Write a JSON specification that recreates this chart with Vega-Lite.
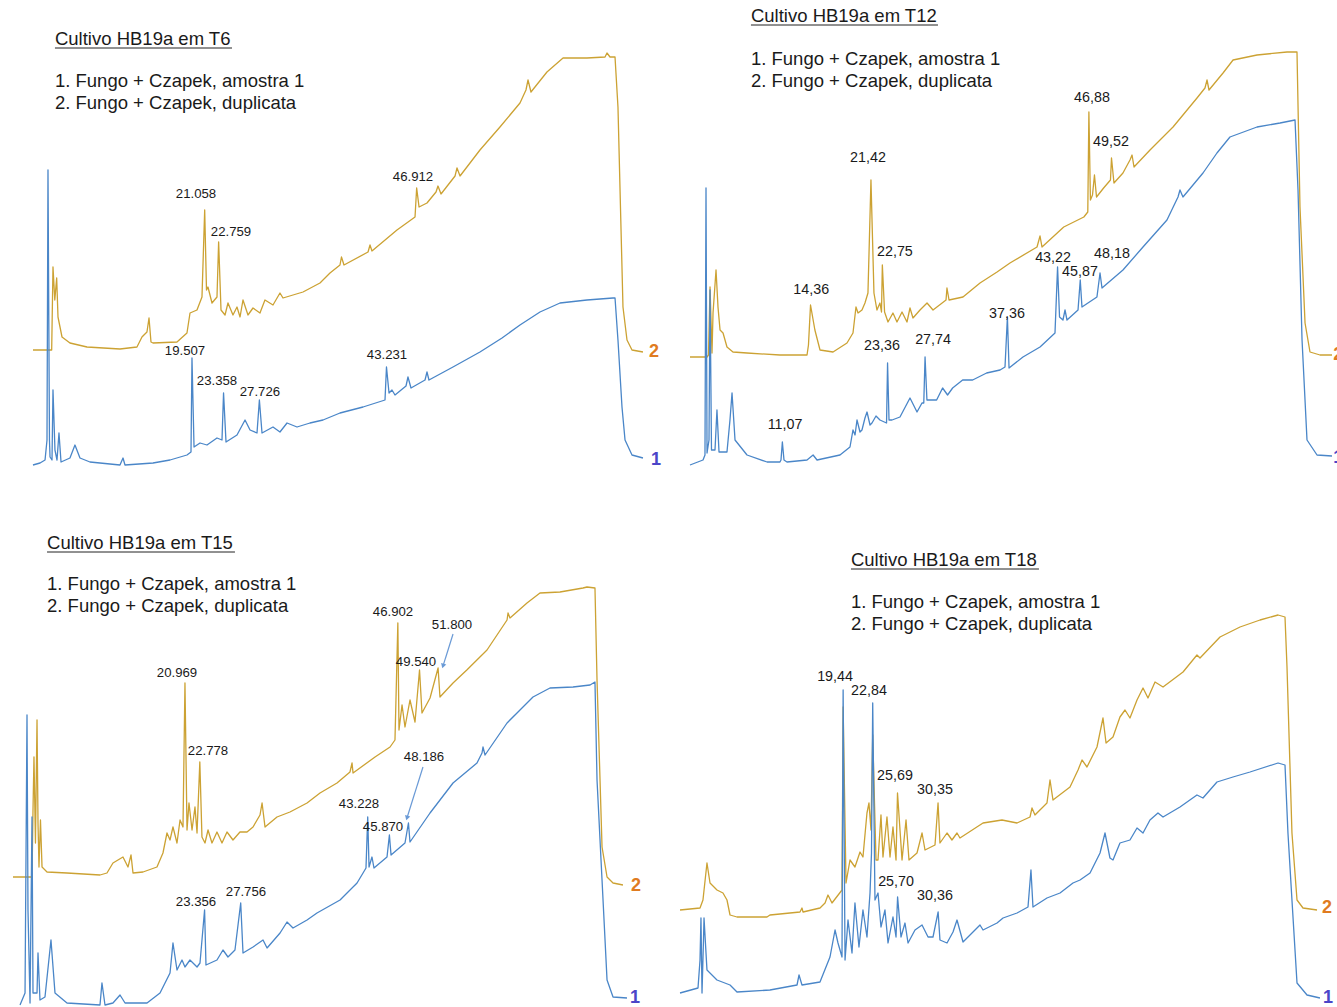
{
"$schema": "https://vega.github.io/schema/vega-lite/v6.json",
"padding": 0,
"background": "white",
"spacing": 0,
"config": {"view": {"stroke": null}, "font": "Liberation Sans"},
"datasets": {
"tr": [
{"p":"T6","s":"2","t":0.12,"v":150},{"p":"T6","s":"2","t":2.40,"v":150},{"p":"T6","s":"2","t":2.56,"v":233},{"p":"T6","s":"2","t":2.78,"v":200},{"p":"T6","s":"2","t":3.01,"v":222},{"p":"T6","s":"2","t":3.17,"v":183},{"p":"T6","s":"2","t":3.66,"v":163},{"p":"T6","s":"2","t":4.63,"v":157},{"p":"T6","s":"2","t":6.71,"v":153},{"p":"T6","s":"2","t":10.73,"v":151},{"p":"T6","s":"2","t":12.80,"v":153},{"p":"T6","s":"2","t":13.41,"v":163},{"p":"T6","s":"2","t":14.02,"v":168},{"p":"T6","s":"2","t":14.27,"v":182},{"p":"T6","s":"2","t":14.51,"v":158},{"p":"T6","s":"2","t":14.76,"v":157},{"p":"T6","s":"2","t":17.68,"v":158},{"p":"T6","s":"2","t":18.90,"v":167},{"p":"T6","s":"2","t":19.27,"v":187},{"p":"T6","s":"2","t":20.12,"v":190},{"p":"T6","s":"2","t":20.73,"v":203},{"p":"T6","s":"2","t":21.06,"v":290},{"p":"T6","s":"2","t":21.28,"v":210},{"p":"T6","s":"2","t":21.46,"v":213},{"p":"T6","s":"2","t":21.95,"v":197},{"p":"T6","s":"2","t":22.56,"v":203},{"p":"T6","s":"2","t":22.76,"v":258},{"p":"T6","s":"2","t":23.05,"v":190},{"p":"T6","s":"2","t":23.54,"v":185},{"p":"T6","s":"2","t":23.90,"v":197},{"p":"T6","s":"2","t":24.51,"v":185},{"p":"T6","s":"2","t":25.00,"v":193},{"p":"T6","s":"2","t":25.37,"v":183},{"p":"T6","s":"2","t":25.73,"v":200},{"p":"T6","s":"2","t":26.34,"v":185},{"p":"T6","s":"2","t":26.95,"v":192},{"p":"T6","s":"2","t":27.80,"v":187},{"p":"T6","s":"2","t":28.41,"v":200},{"p":"T6","s":"2","t":29.39,"v":195},{"p":"T6","s":"2","t":30.24,"v":207},{"p":"T6","s":"2","t":30.61,"v":202},{"p":"T6","s":"2","t":33.05,"v":208},{"p":"T6","s":"2","t":35.12,"v":217},{"p":"T6","s":"2","t":36.34,"v":227},{"p":"T6","s":"2","t":37.56,"v":235},{"p":"T6","s":"2","t":37.74,"v":243},{"p":"T6","s":"2","t":38.05,"v":235},{"p":"T6","s":"2","t":40.98,"v":248},{"p":"T6","s":"2","t":41.22,"v":255},{"p":"T6","s":"2","t":41.46,"v":249},{"p":"T6","s":"2","t":44.51,"v":270},{"p":"T6","s":"2","t":46.71,"v":283},{"p":"T6","s":"2","t":46.91,"v":312},{"p":"T6","s":"2","t":47.20,"v":293},{"p":"T6","s":"2","t":48.17,"v":297},{"p":"T6","s":"2","t":49.27,"v":308},{"p":"T6","s":"2","t":49.51,"v":314},{"p":"T6","s":"2","t":49.88,"v":306},{"p":"T6","s":"2","t":51.59,"v":324},{"p":"T6","s":"2","t":51.83,"v":332},{"p":"T6","s":"2","t":52.20,"v":324},{"p":"T6","s":"2","t":54.63,"v":350},{"p":"T6","s":"2","t":57.07,"v":373},{"p":"T6","s":"2","t":59.51,"v":397},{"p":"T6","s":"2","t":60.24,"v":410},{"p":"T6","s":"2","t":60.49,"v":420},{"p":"T6","s":"2","t":60.85,"v":408},{"p":"T6","s":"2","t":62.80,"v":428},{"p":"T6","s":"2","t":64.76,"v":442},{"p":"T6","s":"2","t":67.68,"v":442},{"p":"T6","s":"2","t":69.88,"v":443},{"p":"T6","s":"2","t":70.12,"v":447},{"p":"T6","s":"2","t":70.49,"v":443},{"p":"T6","s":"2","t":71.10,"v":443},{"p":"T6","s":"2","t":71.46,"v":393},{"p":"T6","s":"2","t":72.07,"v":193},{"p":"T6","s":"2","t":72.56,"v":160},{"p":"T6","s":"2","t":73.17,"v":150},{"p":"T6","s":"2","t":74.51,"v":148},
{"p":"T6","s":"1","t":0.12,"v":35},{"p":"T6","s":"1","t":0.98,"v":37},{"p":"T6","s":"1","t":1.59,"v":40},{"p":"T6","s":"1","t":1.83,"v":60},{"p":"T6","s":"1","t":1.95,"v":330},{"p":"T6","s":"1","t":2.13,"v":60},{"p":"T6","s":"1","t":2.20,"v":43},{"p":"T6","s":"1","t":2.44,"v":40},{"p":"T6","s":"1","t":2.56,"v":110},{"p":"T6","s":"1","t":2.80,"v":50},{"p":"T6","s":"1","t":3.05,"v":40},{"p":"T6","s":"1","t":3.29,"v":67},{"p":"T6","s":"1","t":3.54,"v":38},{"p":"T6","s":"1","t":4.63,"v":42},{"p":"T6","s":"1","t":5.24,"v":55},{"p":"T6","s":"1","t":5.85,"v":42},{"p":"T6","s":"1","t":7.07,"v":38},{"p":"T6","s":"1","t":10.73,"v":35},{"p":"T6","s":"1","t":11.10,"v":42},{"p":"T6","s":"1","t":11.34,"v":35},{"p":"T6","s":"1","t":14.76,"v":37},{"p":"T6","s":"1","t":16.83,"v":40},{"p":"T6","s":"1","t":18.90,"v":45},{"p":"T6","s":"1","t":19.39,"v":48},{"p":"T6","s":"1","t":19.51,"v":142},{"p":"T6","s":"1","t":19.76,"v":53},{"p":"T6","s":"1","t":20.49,"v":57},{"p":"T6","s":"1","t":21.34,"v":55},{"p":"T6","s":"1","t":22.56,"v":62},{"p":"T6","s":"1","t":23.17,"v":60},{"p":"T6","s":"1","t":23.36,"v":107},{"p":"T6","s":"1","t":23.66,"v":58},{"p":"T6","s":"1","t":25.00,"v":65},{"p":"T6","s":"1","t":25.98,"v":80},{"p":"T6","s":"1","t":26.59,"v":70},{"p":"T6","s":"1","t":27.44,"v":67},{"p":"T6","s":"1","t":27.73,"v":100},{"p":"T6","s":"1","t":28.05,"v":67},{"p":"T6","s":"1","t":29.39,"v":73},{"p":"T6","s":"1","t":30.24,"v":68},{"p":"T6","s":"1","t":31.10,"v":77},{"p":"T6","s":"1","t":32.32,"v":73},{"p":"T6","s":"1","t":33.90,"v":77},{"p":"T6","s":"1","t":35.49,"v":80},{"p":"T6","s":"1","t":37.56,"v":87},{"p":"T6","s":"1","t":40.37,"v":93},{"p":"T6","s":"1","t":43.05,"v":100},{"p":"T6","s":"1","t":43.23,"v":133},{"p":"T6","s":"1","t":43.54,"v":107},{"p":"T6","s":"1","t":43.90,"v":110},{"p":"T6","s":"1","t":44.27,"v":105},{"p":"T6","s":"1","t":45.61,"v":114},{"p":"T6","s":"1","t":45.85,"v":123},{"p":"T6","s":"1","t":46.22,"v":112},{"p":"T6","s":"1","t":47.93,"v":120},{"p":"T6","s":"1","t":48.17,"v":128},{"p":"T6","s":"1","t":48.41,"v":120},{"p":"T6","s":"1","t":51.34,"v":133},{"p":"T6","s":"1","t":54.63,"v":148},{"p":"T6","s":"1","t":57.32,"v":162},{"p":"T6","s":"1","t":59.51,"v":175},{"p":"T6","s":"1","t":61.95,"v":188},{"p":"T6","s":"1","t":64.39,"v":197},{"p":"T6","s":"1","t":67.68,"v":200},{"p":"T6","s":"1","t":70.85,"v":202},{"p":"T6","s":"1","t":71.10,"v":202},{"p":"T6","s":"1","t":71.46,"v":160},{"p":"T6","s":"1","t":71.95,"v":93},{"p":"T6","s":"1","t":72.32,"v":60},{"p":"T6","s":"1","t":73.17,"v":45},{"p":"T6","s":"1","t":74.51,"v":42},
{"p":"T12","s":"2","t":0.28,"v":143},{"p":"T12","s":"2","t":2.27,"v":143},{"p":"T12","s":"2","t":2.44,"v":145},{"p":"T12","s":"2","t":2.62,"v":213},{"p":"T12","s":"2","t":2.85,"v":147},{"p":"T12","s":"2","t":2.97,"v":187},{"p":"T12","s":"2","t":3.32,"v":230},{"p":"T12","s":"2","t":3.55,"v":193},{"p":"T12","s":"2","t":3.79,"v":170},{"p":"T12","s":"2","t":4.14,"v":167},{"p":"T12","s":"2","t":4.60,"v":153},{"p":"T12","s":"2","t":5.30,"v":148},{"p":"T12","s":"2","t":6.94,"v":147},{"p":"T12","s":"2","t":10.79,"v":145},{"p":"T12","s":"2","t":13.95,"v":145},{"p":"T12","s":"2","t":14.12,"v":155},{"p":"T12","s":"2","t":14.36,"v":195},{"p":"T12","s":"2","t":14.87,"v":170},{"p":"T12","s":"2","t":15.47,"v":150},{"p":"T12","s":"2","t":16.99,"v":148},{"p":"T12","s":"2","t":18.62,"v":157},{"p":"T12","s":"2","t":19.32,"v":167},{"p":"T12","s":"2","t":19.67,"v":193},{"p":"T12","s":"2","t":19.91,"v":187},{"p":"T12","s":"2","t":20.37,"v":190},{"p":"T12","s":"2","t":20.72,"v":197},{"p":"T12","s":"2","t":21.07,"v":207},{"p":"T12","s":"2","t":21.42,"v":320},{"p":"T12","s":"2","t":21.77,"v":207},{"p":"T12","s":"2","t":22.12,"v":190},{"p":"T12","s":"2","t":22.47,"v":197},{"p":"T12","s":"2","t":22.65,"v":188},{"p":"T12","s":"2","t":22.75,"v":235},{"p":"T12","s":"2","t":23.01,"v":188},{"p":"T12","s":"2","t":23.41,"v":178},{"p":"T12","s":"2","t":23.99,"v":187},{"p":"T12","s":"2","t":24.46,"v":178},{"p":"T12","s":"2","t":25.05,"v":188},{"p":"T12","s":"2","t":25.63,"v":178},{"p":"T12","s":"2","t":25.98,"v":192},{"p":"T12","s":"2","t":26.33,"v":182},{"p":"T12","s":"2","t":27.15,"v":190},{"p":"T12","s":"2","t":27.97,"v":197},{"p":"T12","s":"2","t":28.67,"v":190},{"p":"T12","s":"2","t":30.19,"v":200},{"p":"T12","s":"2","t":30.30,"v":212},{"p":"T12","s":"2","t":30.54,"v":200},{"p":"T12","s":"2","t":32.17,"v":203},{"p":"T12","s":"2","t":34.16,"v":217},{"p":"T12","s":"2","t":36.15,"v":228},{"p":"T12","s":"2","t":37.66,"v":237},{"p":"T12","s":"2","t":40.82,"v":253},{"p":"T12","s":"2","t":41.17,"v":264},{"p":"T12","s":"2","t":41.40,"v":253},{"p":"T12","s":"2","t":43.94,"v":273},{"p":"T12","s":"2","t":46.29,"v":283},{"p":"T12","s":"2","t":46.75,"v":288},{"p":"T12","s":"2","t":46.88,"v":388},{"p":"T12","s":"2","t":47.06,"v":300},{"p":"T12","s":"2","t":47.30,"v":305},{"p":"T12","s":"2","t":47.53,"v":325},{"p":"T12","s":"2","t":47.77,"v":303},{"p":"T12","s":"2","t":48.60,"v":312},{"p":"T12","s":"2","t":49.40,"v":320},{"p":"T12","s":"2","t":49.52,"v":342},{"p":"T12","s":"2","t":49.81,"v":317},{"p":"T12","s":"2","t":50.86,"v":327},{"p":"T12","s":"2","t":51.68,"v":340},{"p":"T12","s":"2","t":51.92,"v":345},{"p":"T12","s":"2","t":52.15,"v":333},{"p":"T12","s":"2","t":54.02,"v":350},{"p":"T12","s":"2","t":56.71,"v":373},{"p":"T12","s":"2","t":59.51,"v":402},{"p":"T12","s":"2","t":60.44,"v":412},{"p":"T12","s":"2","t":60.68,"v":420},{"p":"T12","s":"2","t":60.91,"v":410},{"p":"T12","s":"2","t":62.55,"v":427},{"p":"T12","s":"2","t":63.72,"v":440},{"p":"T12","s":"2","t":66.52,"v":445},{"p":"T12","s":"2","t":70.03,"v":448},{"p":"T12","s":"2","t":71.19,"v":448},{"p":"T12","s":"2","t":71.54,"v":293},{"p":"T12","s":"2","t":72.13,"v":177},{"p":"T12","s":"2","t":72.71,"v":148},{"p":"T12","s":"2","t":73.88,"v":145},{"p":"T12","s":"2","t":75.28,"v":145},
{"p":"T12","s":"1","t":0.28,"v":35},{"p":"T12","s":"1","t":1.80,"v":40},{"p":"T12","s":"1","t":2.03,"v":45},{"p":"T12","s":"1","t":2.15,"v":312},{"p":"T12","s":"1","t":2.27,"v":47},{"p":"T12","s":"1","t":2.50,"v":60},{"p":"T12","s":"1","t":2.62,"v":210},{"p":"T12","s":"1","t":2.79,"v":50},{"p":"T12","s":"1","t":3.20,"v":50},{"p":"T12","s":"1","t":3.43,"v":90},{"p":"T12","s":"1","t":3.67,"v":48},{"p":"T12","s":"1","t":4.60,"v":48},{"p":"T12","s":"1","t":4.95,"v":80},{"p":"T12","s":"1","t":5.19,"v":107},{"p":"T12","s":"1","t":5.54,"v":60},{"p":"T12","s":"1","t":6.94,"v":45},{"p":"T12","s":"1","t":9.28,"v":38},{"p":"T12","s":"1","t":10.79,"v":38},{"p":"T12","s":"1","t":10.91,"v":40},{"p":"T12","s":"1","t":11.07,"v":58},{"p":"T12","s":"1","t":11.26,"v":40},{"p":"T12","s":"1","t":11.61,"v":38},{"p":"T12","s":"1","t":13.95,"v":40},{"p":"T12","s":"1","t":14.66,"v":45},{"p":"T12","s":"1","t":15.12,"v":40},{"p":"T12","s":"1","t":17.80,"v":45},{"p":"T12","s":"1","t":18.97,"v":53},{"p":"T12","s":"1","t":19.32,"v":70},{"p":"T12","s":"1","t":19.56,"v":65},{"p":"T12","s":"1","t":19.79,"v":80},{"p":"T12","s":"1","t":20.14,"v":68},{"p":"T12","s":"1","t":20.37,"v":70},{"p":"T12","s":"1","t":20.72,"v":82},{"p":"T12","s":"1","t":20.96,"v":88},{"p":"T12","s":"1","t":21.31,"v":75},{"p":"T12","s":"1","t":21.54,"v":77},{"p":"T12","s":"1","t":22.01,"v":84},{"p":"T12","s":"1","t":22.47,"v":80},{"p":"T12","s":"1","t":23.24,"v":77},{"p":"T12","s":"1","t":23.36,"v":137},{"p":"T12","s":"1","t":23.53,"v":80},{"p":"T12","s":"1","t":23.88,"v":80},{"p":"T12","s":"1","t":24.81,"v":83},{"p":"T12","s":"1","t":25.98,"v":102},{"p":"T12","s":"1","t":26.80,"v":88},{"p":"T12","s":"1","t":27.38,"v":97},{"p":"T12","s":"1","t":27.59,"v":97},{"p":"T12","s":"1","t":27.74,"v":143},{"p":"T12","s":"1","t":27.96,"v":100},{"p":"T12","s":"1","t":29.09,"v":100},{"p":"T12","s":"1","t":29.79,"v":112},{"p":"T12","s":"1","t":30.37,"v":105},{"p":"T12","s":"1","t":30.96,"v":112},{"p":"T12","s":"1","t":32.13,"v":120},{"p":"T12","s":"1","t":33.30,"v":120},{"p":"T12","s":"1","t":34.93,"v":127},{"p":"T12","s":"1","t":36.50,"v":130},{"p":"T12","s":"1","t":37.08,"v":133},{"p":"T12","s":"1","t":37.36,"v":183},{"p":"T12","s":"1","t":37.55,"v":132},{"p":"T12","s":"1","t":39.18,"v":143},{"p":"T12","s":"1","t":41.17,"v":153},{"p":"T12","s":"1","t":42.92,"v":167},{"p":"T12","s":"1","t":43.22,"v":233},{"p":"T12","s":"1","t":43.45,"v":183},{"p":"T12","s":"1","t":43.85,"v":180},{"p":"T12","s":"1","t":44.09,"v":190},{"p":"T12","s":"1","t":44.32,"v":180},{"p":"T12","s":"1","t":45.61,"v":190},{"p":"T12","s":"1","t":45.87,"v":220},{"p":"T12","s":"1","t":46.07,"v":193},{"p":"T12","s":"1","t":47.82,"v":203},{"p":"T12","s":"1","t":48.18,"v":227},{"p":"T12","s":"1","t":48.41,"v":212},{"p":"T12","s":"1","t":50.86,"v":230},{"p":"T12","s":"1","t":53.20,"v":253},{"p":"T12","s":"1","t":56.00,"v":280},{"p":"T12","s":"1","t":57.29,"v":303},{"p":"T12","s":"1","t":57.52,"v":310},{"p":"T12","s":"1","t":57.87,"v":303},{"p":"T12","s":"1","t":60.21,"v":327},{"p":"T12","s":"1","t":61.84,"v":347},{"p":"T12","s":"1","t":63.36,"v":363},{"p":"T12","s":"1","t":66.52,"v":373},{"p":"T12","s":"1","t":69.21,"v":377},{"p":"T12","s":"1","t":70.96,"v":380},{"p":"T12","s":"1","t":71.31,"v":310},{"p":"T12","s":"1","t":71.78,"v":160},{"p":"T12","s":"1","t":72.36,"v":60},{"p":"T12","s":"1","t":73.53,"v":45},{"p":"T12","s":"1","t":75.28,"v":44},
{"p":"T15","s":"2","t":0.02,"v":130},{"p":"T15","s":"2","t":2.34,"v":130},{"p":"T15","s":"2","t":2.46,"v":197},{"p":"T15","s":"2","t":2.58,"v":250},{"p":"T15","s":"2","t":2.76,"v":164},{"p":"T15","s":"2","t":2.95,"v":287},{"p":"T15","s":"2","t":3.07,"v":184},{"p":"T15","s":"2","t":3.19,"v":140},{"p":"T15","s":"2","t":3.37,"v":187},{"p":"T15","s":"2","t":3.56,"v":140},{"p":"T15","s":"2","t":4.17,"v":135},{"p":"T15","s":"2","t":6.60,"v":134},{"p":"T15","s":"2","t":10.62,"v":132},{"p":"T15","s":"2","t":11.47,"v":134},{"p":"T15","s":"2","t":12.20,"v":144},{"p":"T15","s":"2","t":13.42,"v":150},{"p":"T15","s":"2","t":14.03,"v":140},{"p":"T15","s":"2","t":14.40,"v":152},{"p":"T15","s":"2","t":14.64,"v":134},{"p":"T15","s":"2","t":15.86,"v":135},{"p":"T15","s":"2","t":17.56,"v":140},{"p":"T15","s":"2","t":18.29,"v":154},{"p":"T15","s":"2","t":18.78,"v":174},{"p":"T15","s":"2","t":19.15,"v":167},{"p":"T15","s":"2","t":19.51,"v":180},{"p":"T15","s":"2","t":20.00,"v":164},{"p":"T15","s":"2","t":20.37,"v":187},{"p":"T15","s":"2","t":20.73,"v":180},{"p":"T15","s":"2","t":20.97,"v":324},{"p":"T15","s":"2","t":21.22,"v":177},{"p":"T15","s":"2","t":21.46,"v":204},{"p":"T15","s":"2","t":21.83,"v":177},{"p":"T15","s":"2","t":22.19,"v":200},{"p":"T15","s":"2","t":22.44,"v":174},{"p":"T15","s":"2","t":22.78,"v":245},{"p":"T15","s":"2","t":23.04,"v":170},{"p":"T15","s":"2","t":23.41,"v":164},{"p":"T15","s":"2","t":23.78,"v":177},{"p":"T15","s":"2","t":24.26,"v":164},{"p":"T15","s":"2","t":24.87,"v":175},{"p":"T15","s":"2","t":25.48,"v":164},{"p":"T15","s":"2","t":26.09,"v":175},{"p":"T15","s":"2","t":26.82,"v":167},{"p":"T15","s":"2","t":27.67,"v":175},{"p":"T15","s":"2","t":28.53,"v":175},{"p":"T15","s":"2","t":29.26,"v":180},{"p":"T15","s":"2","t":30.11,"v":192},{"p":"T15","s":"2","t":30.36,"v":204},{"p":"T15","s":"2","t":30.72,"v":180},{"p":"T15","s":"2","t":32.18,"v":190},{"p":"T15","s":"2","t":33.76,"v":195},{"p":"T15","s":"2","t":35.84,"v":204},{"p":"T15","s":"2","t":37.42,"v":214},{"p":"T15","s":"2","t":39.49,"v":224},{"p":"T15","s":"2","t":41.07,"v":235},{"p":"T15","s":"2","t":41.32,"v":244},{"p":"T15","s":"2","t":41.44,"v":234},{"p":"T15","s":"2","t":44.12,"v":250},{"p":"T15","s":"2","t":45.95,"v":260},{"p":"T15","s":"2","t":46.55,"v":267},{"p":"T15","s":"2","t":46.90,"v":384},{"p":"T15","s":"2","t":47.04,"v":277},{"p":"T15","s":"2","t":47.41,"v":302},{"p":"T15","s":"2","t":47.77,"v":280},{"p":"T15","s":"2","t":48.38,"v":307},{"p":"T15","s":"2","t":48.99,"v":285},{"p":"T15","s":"2","t":49.54,"v":337},{"p":"T15","s":"2","t":49.84,"v":294},{"p":"T15","s":"2","t":50.82,"v":309},{"p":"T15","s":"2","t":51.80,"v":339},{"p":"T15","s":"2","t":52.03,"v":310},{"p":"T15","s":"2","t":53.62,"v":324},{"p":"T15","s":"2","t":55.30,"v":337},{"p":"T15","s":"2","t":57.76,"v":357},{"p":"T15","s":"2","t":60.20,"v":387},{"p":"T15","s":"2","t":60.32,"v":394},{"p":"T15","s":"2","t":60.56,"v":389},{"p":"T15","s":"2","t":62.63,"v":404},{"p":"T15","s":"2","t":64.21,"v":414},{"p":"T15","s":"2","t":66.65,"v":415},{"p":"T15","s":"2","t":69.45,"v":419},{"p":"T15","s":"2","t":69.94,"v":420},{"p":"T15","s":"2","t":70.91,"v":419},{"p":"T15","s":"2","t":71.16,"v":327},{"p":"T15","s":"2","t":71.77,"v":160},{"p":"T15","s":"2","t":72.38,"v":130},{"p":"T15","s":"2","t":73.11,"v":124},{"p":"T15","s":"2","t":74.32,"v":122},
{"p":"T15","s":"1","t":0.88,"v":2},{"p":"T15","s":"1","t":1.49,"v":14},{"p":"T15","s":"1","t":1.73,"v":292},{"p":"T15","s":"1","t":1.85,"v":97},{"p":"T15","s":"1","t":2.10,"v":4},{"p":"T15","s":"1","t":2.34,"v":190},{"p":"T15","s":"1","t":2.46,"v":14},{"p":"T15","s":"1","t":2.95,"v":14},{"p":"T15","s":"1","t":3.07,"v":54},{"p":"T15","s":"1","t":3.31,"v":7},{"p":"T15","s":"1","t":3.92,"v":10},{"p":"T15","s":"1","t":4.65,"v":67},{"p":"T15","s":"1","t":5.14,"v":14},{"p":"T15","s":"1","t":6.60,"v":4},{"p":"T15","s":"1","t":10.62,"v":2},{"p":"T15","s":"1","t":10.86,"v":24},{"p":"T15","s":"1","t":11.23,"v":2},{"p":"T15","s":"1","t":12.20,"v":4},{"p":"T15","s":"1","t":13.06,"v":12},{"p":"T15","s":"1","t":13.67,"v":4},{"p":"T15","s":"1","t":16.35,"v":4},{"p":"T15","s":"1","t":17.93,"v":14},{"p":"T15","s":"1","t":19.15,"v":34},{"p":"T15","s":"1","t":19.51,"v":64},{"p":"T15","s":"1","t":20.00,"v":37},{"p":"T15","s":"1","t":20.61,"v":47},{"p":"T15","s":"1","t":20.97,"v":40},{"p":"T15","s":"1","t":21.58,"v":47},{"p":"T15","s":"1","t":22.44,"v":40},{"p":"T15","s":"1","t":22.80,"v":44},{"p":"T15","s":"1","t":23.36,"v":97},{"p":"T15","s":"1","t":23.53,"v":42},{"p":"T15","s":"1","t":24.87,"v":47},{"p":"T15","s":"1","t":25.60,"v":57},{"p":"T15","s":"1","t":26.21,"v":50},{"p":"T15","s":"1","t":27.06,"v":57},{"p":"T15","s":"1","t":27.76,"v":104},{"p":"T15","s":"1","t":28.04,"v":54},{"p":"T15","s":"1","t":29.26,"v":60},{"p":"T15","s":"1","t":30.48,"v":67},{"p":"T15","s":"1","t":30.97,"v":59},{"p":"T15","s":"1","t":32.55,"v":74},{"p":"T15","s":"1","t":33.40,"v":85},{"p":"T15","s":"1","t":34.13,"v":79},{"p":"T15","s":"1","t":35.84,"v":87},{"p":"T15","s":"1","t":37.05,"v":94},{"p":"T15","s":"1","t":39.86,"v":107},{"p":"T15","s":"1","t":40.71,"v":114},{"p":"T15","s":"1","t":41.93,"v":124},{"p":"T15","s":"1","t":42.66,"v":134},{"p":"T15","s":"1","t":43.02,"v":139},{"p":"T15","s":"1","t":43.23,"v":190},{"p":"T15","s":"1","t":43.39,"v":140},{"p":"T15","s":"1","t":43.75,"v":150},{"p":"T15","s":"1","t":43.99,"v":139},{"p":"T15","s":"1","t":45.58,"v":150},{"p":"T15","s":"1","t":45.87,"v":172},{"p":"T15","s":"1","t":46.07,"v":152},{"p":"T15","s":"1","t":47.77,"v":164},{"p":"T15","s":"1","t":48.19,"v":184},{"p":"T15","s":"1","t":48.38,"v":165},{"p":"T15","s":"1","t":50.82,"v":194},{"p":"T15","s":"1","t":53.62,"v":224},{"p":"T15","s":"1","t":56.54,"v":244},{"p":"T15","s":"1","t":57.15,"v":254},{"p":"T15","s":"1","t":57.27,"v":260},{"p":"T15","s":"1","t":57.52,"v":252},{"p":"T15","s":"1","t":60.20,"v":284},{"p":"T15","s":"1","t":63.36,"v":310},{"p":"T15","s":"1","t":65.43,"v":319},{"p":"T15","s":"1","t":68.24,"v":320},{"p":"T15","s":"1","t":70.31,"v":322},{"p":"T15","s":"1","t":70.91,"v":325},{"p":"T15","s":"1","t":71.16,"v":227},{"p":"T15","s":"1","t":71.77,"v":127},{"p":"T15","s":"1","t":72.38,"v":27},{"p":"T15","s":"1","t":73.11,"v":10},{"p":"T15","s":"1","t":74.81,"v":9},
{"p":"T18","s":"2","t":0.69,"v":97},{"p":"T18","s":"2","t":2.99,"v":99},{"p":"T18","s":"2","t":3.33,"v":107},{"p":"T18","s":"2","t":3.79,"v":144},{"p":"T18","s":"2","t":4.14,"v":124},{"p":"T18","s":"2","t":4.94,"v":117},{"p":"T18","s":"2","t":5.63,"v":114},{"p":"T18","s":"2","t":6.09,"v":107},{"p":"T18","s":"2","t":6.44,"v":92},{"p":"T18","s":"2","t":7.24,"v":90},{"p":"T18","s":"2","t":10.69,"v":90},{"p":"T18","s":"2","t":11.03,"v":92},{"p":"T18","s":"2","t":14.48,"v":95},{"p":"T18","s":"2","t":14.71,"v":99},{"p":"T18","s":"2","t":14.83,"v":95},{"p":"T18","s":"2","t":16.78,"v":99},{"p":"T18","s":"2","t":17.36,"v":104},{"p":"T18","s":"2","t":17.70,"v":112},{"p":"T18","s":"2","t":18.16,"v":104},{"p":"T18","s":"2","t":19.31,"v":117},{"p":"T18","s":"2","t":19.44,"v":300},{"p":"T18","s":"2","t":19.77,"v":124},{"p":"T18","s":"2","t":20.23,"v":147},{"p":"T18","s":"2","t":20.80,"v":140},{"p":"T18","s":"2","t":21.38,"v":155},{"p":"T18","s":"2","t":21.72,"v":150},{"p":"T18","s":"2","t":22.18,"v":194},{"p":"T18","s":"2","t":22.41,"v":204},{"p":"T18","s":"2","t":22.64,"v":177},{"p":"T18","s":"2","t":22.84,"v":272},{"p":"T18","s":"2","t":23.22,"v":147},{"p":"T18","s":"2","t":23.45,"v":147},{"p":"T18","s":"2","t":23.79,"v":192},{"p":"T18","s":"2","t":24.02,"v":150},{"p":"T18","s":"2","t":24.48,"v":190},{"p":"T18","s":"2","t":24.83,"v":150},{"p":"T18","s":"2","t":25.17,"v":180},{"p":"T18","s":"2","t":25.52,"v":147},{"p":"T18","s":"2","t":25.69,"v":214},{"p":"T18","s":"2","t":26.21,"v":147},{"p":"T18","s":"2","t":26.67,"v":187},{"p":"T18","s":"2","t":27.01,"v":147},{"p":"T18","s":"2","t":27.93,"v":154},{"p":"T18","s":"2","t":28.51,"v":174},{"p":"T18","s":"2","t":28.85,"v":157},{"p":"T18","s":"2","t":30.00,"v":162},{"p":"T18","s":"2","t":30.35,"v":204},{"p":"T18","s":"2","t":30.57,"v":164},{"p":"T18","s":"2","t":31.38,"v":174},{"p":"T18","s":"2","t":31.95,"v":167},{"p":"T18","s":"2","t":32.53,"v":174},{"p":"T18","s":"2","t":32.87,"v":169},{"p":"T18","s":"2","t":35.52,"v":184},{"p":"T18","s":"2","t":37.70,"v":187},{"p":"T18","s":"2","t":39.43,"v":184},{"p":"T18","s":"2","t":40.92,"v":190},{"p":"T18","s":"2","t":41.15,"v":199},{"p":"T18","s":"2","t":41.49,"v":192},{"p":"T18","s":"2","t":42.87,"v":204},{"p":"T18","s":"2","t":43.22,"v":227},{"p":"T18","s":"2","t":43.56,"v":207},{"p":"T18","s":"2","t":45.52,"v":220},{"p":"T18","s":"2","t":46.44,"v":237},{"p":"T18","s":"2","t":46.90,"v":247},{"p":"T18","s":"2","t":47.47,"v":240},{"p":"T18","s":"2","t":48.62,"v":260},{"p":"T18","s":"2","t":49.31,"v":289},{"p":"T18","s":"2","t":49.66,"v":264},{"p":"T18","s":"2","t":50.46,"v":270},{"p":"T18","s":"2","t":51.26,"v":290},{"p":"T18","s":"2","t":51.84,"v":297},{"p":"T18","s":"2","t":52.41,"v":289},{"p":"T18","s":"2","t":53.22,"v":307},{"p":"T18","s":"2","t":53.91,"v":319},{"p":"T18","s":"2","t":54.48,"v":309},{"p":"T18","s":"2","t":55.29,"v":325},{"p":"T18","s":"2","t":56.21,"v":320},{"p":"T18","s":"2","t":58.51,"v":335},{"p":"T18","s":"2","t":60.11,"v":352},{"p":"T18","s":"2","t":60.46,"v":349},{"p":"T18","s":"2","t":62.76,"v":370},{"p":"T18","s":"2","t":65.06,"v":380},{"p":"T18","s":"2","t":67.36,"v":387},{"p":"T18","s":"2","t":69.43,"v":392},{"p":"T18","s":"2","t":70.23,"v":390},{"p":"T18","s":"2","t":70.46,"v":340},{"p":"T18","s":"2","t":71.03,"v":174},{"p":"T18","s":"2","t":71.61,"v":107},{"p":"T18","s":"2","t":72.30,"v":99},{"p":"T18","s":"2","t":73.91,"v":97},
{"p":"T18","s":"1","t":0.69,"v":14},{"p":"T18","s":"1","t":2.76,"v":19},{"p":"T18","s":"1","t":2.99,"v":47},{"p":"T18","s":"1","t":3.10,"v":89},{"p":"T18","s":"1","t":3.22,"v":14},{"p":"T18","s":"1","t":3.39,"v":67},{"p":"T18","s":"1","t":3.45,"v":89},{"p":"T18","s":"1","t":3.79,"v":37},{"p":"T18","s":"1","t":4.94,"v":27},{"p":"T18","s":"1","t":6.44,"v":22},{"p":"T18","s":"1","t":7.24,"v":15},{"p":"T18","s":"1","t":11.03,"v":17},{"p":"T18","s":"1","t":14.14,"v":22},{"p":"T18","s":"1","t":14.37,"v":32},{"p":"T18","s":"1","t":14.71,"v":22},{"p":"T18","s":"1","t":16.78,"v":25},{"p":"T18","s":"1","t":17.93,"v":50},{"p":"T18","s":"1","t":18.51,"v":77},{"p":"T18","s":"1","t":18.85,"v":64},{"p":"T18","s":"1","t":19.31,"v":50},{"p":"T18","s":"1","t":19.44,"v":317},{"p":"T18","s":"1","t":19.66,"v":47},{"p":"T18","s":"1","t":20.00,"v":87},{"p":"T18","s":"1","t":20.46,"v":54},{"p":"T18","s":"1","t":20.80,"v":104},{"p":"T18","s":"1","t":21.26,"v":60},{"p":"T18","s":"1","t":21.72,"v":97},{"p":"T18","s":"1","t":22.18,"v":70},{"p":"T18","s":"1","t":22.53,"v":114},{"p":"T18","s":"1","t":22.70,"v":154},{"p":"T18","s":"1","t":22.84,"v":304},{"p":"T18","s":"1","t":23.10,"v":107},{"p":"T18","s":"1","t":23.45,"v":114},{"p":"T18","s":"1","t":23.79,"v":80},{"p":"T18","s":"1","t":24.25,"v":97},{"p":"T18","s":"1","t":24.60,"v":64},{"p":"T18","s":"1","t":25.17,"v":90},{"p":"T18","s":"1","t":25.52,"v":70},{"p":"T18","s":"1","t":25.70,"v":110},{"p":"T18","s":"1","t":26.09,"v":70},{"p":"T18","s":"1","t":26.55,"v":84},{"p":"T18","s":"1","t":26.90,"v":64},{"p":"T18","s":"1","t":27.70,"v":77},{"p":"T18","s":"1","t":28.51,"v":82},{"p":"T18","s":"1","t":29.20,"v":70},{"p":"T18","s":"1","t":29.77,"v":70},{"p":"T18","s":"1","t":30.36,"v":95},{"p":"T18","s":"1","t":30.57,"v":67},{"p":"T18","s":"1","t":31.38,"v":64},{"p":"T18","s":"1","t":32.07,"v":75},{"p":"T18","s":"1","t":32.53,"v":87},{"p":"T18","s":"1","t":33.22,"v":65},{"p":"T18","s":"1","t":35.17,"v":82},{"p":"T18","s":"1","t":35.52,"v":77},{"p":"T18","s":"1","t":37.13,"v":84},{"p":"T18","s":"1","t":37.82,"v":89},{"p":"T18","s":"1","t":39.43,"v":94},{"p":"T18","s":"1","t":40.69,"v":100},{"p":"T18","s":"1","t":41.03,"v":137},{"p":"T18","s":"1","t":41.26,"v":100},{"p":"T18","s":"1","t":42.87,"v":109},{"p":"T18","s":"1","t":44.37,"v":114},{"p":"T18","s":"1","t":45.86,"v":124},{"p":"T18","s":"1","t":46.67,"v":127},{"p":"T18","s":"1","t":47.82,"v":134},{"p":"T18","s":"1","t":48.97,"v":154},{"p":"T18","s":"1","t":49.54,"v":174},{"p":"T18","s":"1","t":50.11,"v":149},{"p":"T18","s":"1","t":50.46,"v":147},{"p":"T18","s":"1","t":51.26,"v":164},{"p":"T18","s":"1","t":52.41,"v":167},{"p":"T18","s":"1","t":53.22,"v":179},{"p":"T18","s":"1","t":53.91,"v":174},{"p":"T18","s":"1","t":54.71,"v":187},{"p":"T18","s":"1","t":55.63,"v":194},{"p":"T18","s":"1","t":56.21,"v":190},{"p":"T18","s":"1","t":58.16,"v":200},{"p":"T18","s":"1","t":60.11,"v":212},{"p":"T18","s":"1","t":60.80,"v":209},{"p":"T18","s":"1","t":62.41,"v":225},{"p":"T18","s":"1","t":64.25,"v":230},{"p":"T18","s":"1","t":66.21,"v":235},{"p":"T18","s":"1","t":69.43,"v":244},{"p":"T18","s":"1","t":70.23,"v":242},{"p":"T18","s":"1","t":70.57,"v":174},{"p":"T18","s":"1","t":71.03,"v":107},{"p":"T18","s":"1","t":71.61,"v":24},{"p":"T18","s":"1","t":72.76,"v":12},{"p":"T18","s":"1","t":74.25,"v":9}
],
"lb": [
{"p":"T6","t":20.0,"v":306,"txt":"21.058"},{"p":"T6","t":24.27,"v":268,"txt":"22.759"},{"p":"T6","t":46.46,"v":323,"txt":"46.912"},{"p":"T6","t":18.66,"v":149,"txt":"19.507"},{"p":"T6","t":22.56,"v":119,"txt":"23.358"},{"p":"T6","t":27.80,"v":108,"txt":"27.726"},{"p":"T6","t":43.29,"v":145,"txt":"43.231"},
{"p":"T12","t":21.07,"v":342,"txt":"21,42"},{"p":"T12","t":24.22,"v":248,"txt":"22,75"},{"p":"T12","t":14.44,"v":210,"txt":"14,36"},{"p":"T12","t":47.24,"v":402,"txt":"46,88"},{"p":"T12","t":49.46,"v":358,"txt":"49,52"},{"p":"T12","t":42.69,"v":242,"txt":"43,22"},{"p":"T12","t":45.84,"v":228,"txt":"45,87"},{"p":"T12","t":49.58,"v":246,"txt":"48,18"},{"p":"T12","t":37.31,"v":186,"txt":"37,36"},{"p":"T12","t":22.71,"v":154,"txt":"23,36"},{"p":"T12","t":28.67,"v":160,"txt":"27,74"},{"p":"T12","t":11.38,"v":75,"txt":"11,07"},
{"p":"T15","t":20.0,"v":334,"txt":"20.969"},{"p":"T15","t":23.78,"v":256,"txt":"22.778"},{"p":"T15","t":46.31,"v":395,"txt":"46.902"},{"p":"T15","t":53.50,"v":382,"txt":"51.800"},{"p":"T15","t":49.11,"v":345,"txt":"49.540"},{"p":"T15","t":50.09,"v":250,"txt":"48.186"},{"p":"T15","t":42.17,"v":203,"txt":"43.228"},{"p":"T15","t":45.09,"v":180,"txt":"45.870"},{"p":"T15","t":22.31,"v":105,"txt":"23.356"},{"p":"T15","t":28.40,"v":115,"txt":"27.756"},
{"p":"T18","t":18.51,"v":330,"txt":"19,44"},{"p":"T18","t":22.41,"v":316,"txt":"22,84"},{"p":"T18","t":25.40,"v":231,"txt":"25,69"},{"p":"T18","t":30.00,"v":217,"txt":"30,35"},{"p":"T18","t":25.52,"v":125,"txt":"25,70"},{"p":"T18","t":30.00,"v":111,"txt":"30,36"}
],
"tx": [
{"p":"T6","t":2.80,"v":461,"txt":"Cultivo HB19a em T6"},{"p":"T6","t":2.80,"v":419,"txt":"1. Fungo + Czapek, amostra 1"},{"p":"T6","t":2.80,"v":397,"txt":"2. Fungo + Czapek, duplicata"},
{"p":"T12","t":7.40,"v":484,"txt":"Cultivo HB19a em T12"},{"p":"T12","t":7.40,"v":441,"txt":"1. Fungo + Czapek, amostra 1"},{"p":"T12","t":7.40,"v":419,"txt":"2. Fungo + Czapek, duplicata"},
{"p":"T15","t":4.17,"v":464,"txt":"Cultivo HB19a em T15"},{"p":"T15","t":4.17,"v":423,"txt":"1. Fungo + Czapek, amostra 1"},{"p":"T15","t":4.17,"v":401,"txt":"2. Fungo + Czapek, duplicata"},
{"p":"T18","t":20.34,"v":447,"txt":"Cultivo HB19a em T18"},{"p":"T18","t":20.34,"v":405,"txt":"1. Fungo + Czapek, amostra 1"},{"p":"T18","t":20.34,"v":383,"txt":"2. Fungo + Czapek, duplicata"}
],
"ul": [
{"p":"T6","t":2.80,"t2":24.39,"v":452},{"p":"T12","t":7.40,"t2":29.25,"v":475},{"p":"T15","t":4.17,"t2":27.06,"v":455},{"p":"T18","t":20.34,"t2":41.95,"v":438}
],
"num": [
{"p":"T6","s":"2","t":75.85,"v":148},{"p":"T6","s":"1","t":76.10,"v":40},
{"p":"T12","s":"2","t":76.01,"v":145},{"p":"T12","s":"1","t":76.01,"v":42},
{"p":"T15","s":"2","t":75.91,"v":121},{"p":"T15","s":"1","t":75.78,"v":9},
{"p":"T18","s":"2","t":75.06,"v":99},{"p":"T18","s":"1","t":75.17,"v":9}
],
"ar": [
{"p":"T15","t":53.62,"v":373,"t2":52.40,"v2":341},{"p":"T15","t":49.96,"v":240,"t2":48.01,"v2":189}
]
},
"vconcat": [
{"hconcat": [
{"width":668,"height":500,
 "encoding":{"x":{"field":"t","type":"quantitative","scale":{"domain":[-3.902,77.561],"nice":false,"zero":false},"axis":null},"y":{"field":"v","type":"quantitative","scale":{"domain":[0,500],"nice":false,"zero":false},"axis":null}},
 "resolve":{"scale":{"color":"independent"}},
 "layer":[
  {"data":{"name":"tr"},"transform":[{"filter":"datum.p==='T6'"}],"mark":{"type":"line","strokeWidth":1.3,"strokeJoin":"round"},"encoding":{"color":{"field":"s","type":"nominal","scale":{"domain":["1","2"],"range":["#4a86c8","#cca233"]},"legend":null}}},
  {"data":{"name":"lb"},"transform":[{"filter":"datum.p==='T6'"}],"mark":{"type":"text","fontSize":13.2,"color":"#1a1a1a","align":"center","baseline":"middle"},"encoding":{"text":{"field":"txt"}}},
  {"data":{"name":"tx"},"transform":[{"filter":"datum.p==='T6'"}],"mark":{"type":"text","fontSize":18.5,"color":"#1a1a1a","align":"left","baseline":"middle"},"encoding":{"text":{"field":"txt"}}},
  {"data":{"name":"ul"},"transform":[{"filter":"datum.p==='T6'"}],"mark":{"type":"rule","color":"#222","strokeWidth":1},"encoding":{"x2":{"field":"t2"}}},
  {"data":{"name":"num"},"transform":[{"filter":"datum.p==='T6'"}],"mark":{"type":"text","fontSize":18,"fontWeight":"bold","align":"center","baseline":"middle"},"encoding":{"text":{"field":"s"},"color":{"field":"s","type":"nominal","scale":{"domain":["1","2"],"range":["#4b45c8","#e07b20"]},"legend":null}}}
 ]},
{"width":669,"height":500,
 "encoding":{"x":{"field":"t","type":"quantitative","scale":{"domain":[-2.290,75.864],"nice":false,"zero":false},"axis":null},"y":{"field":"v","type":"quantitative","scale":{"domain":[0,500],"nice":false,"zero":false},"axis":null}},
 "resolve":{"scale":{"color":"independent"}},
 "layer":[
  {"data":{"name":"tr"},"transform":[{"filter":"datum.p==='T12'"}],"mark":{"type":"line","strokeWidth":1.3,"strokeJoin":"round"},"encoding":{"color":{"field":"s","type":"nominal","scale":{"domain":["1","2"],"range":["#4a86c8","#cca233"]},"legend":null}}},
  {"data":{"name":"lb"},"transform":[{"filter":"datum.p==='T12'"}],"mark":{"type":"text","fontSize":14.3,"color":"#1a1a1a","align":"center","baseline":"middle"},"encoding":{"text":{"field":"txt"}}},
  {"data":{"name":"tx"},"transform":[{"filter":"datum.p==='T12'"}],"mark":{"type":"text","fontSize":18.5,"color":"#1a1a1a","align":"left","baseline":"middle"},"encoding":{"text":{"field":"txt"}}},
  {"data":{"name":"ul"},"transform":[{"filter":"datum.p==='T12'"}],"mark":{"type":"rule","color":"#222","strokeWidth":1},"encoding":{"x2":{"field":"t2"}}},
  {"data":{"name":"num"},"transform":[{"filter":"datum.p==='T12'"}],"mark":{"type":"text","fontSize":18,"fontWeight":"bold","align":"center","baseline":"middle"},"encoding":{"text":{"field":"s"},"color":{"field":"s","type":"nominal","scale":{"domain":["1","2"],"range":["#4b45c8","#e07b20"]},"legend":null}}}
 ]}
], "spacing":0, "bounds":"flush"},
{"hconcat": [
{"width":668,"height":507,
 "encoding":{"x":{"field":"t","type":"quantitative","scale":{"domain":[-1.559,79.805],"nice":false,"zero":false},"axis":null},"y":{"field":"v","type":"quantitative","scale":{"domain":[0,507],"nice":false,"zero":false},"axis":null}},
 "resolve":{"scale":{"color":"independent"}},
 "layer":[
  {"data":{"name":"tr"},"transform":[{"filter":"datum.p==='T15'"}],"mark":{"type":"line","strokeWidth":1.3,"strokeJoin":"round"},"encoding":{"color":{"field":"s","type":"nominal","scale":{"domain":["1","2"],"range":["#4a86c8","#cca233"]},"legend":null}}},
  {"data":{"name":"ar"},"mark":{"type":"rule","color":"#6a9ad6","strokeWidth":1.2},"encoding":{"x2":{"field":"t2"},"y2":{"field":"v2"}}},
  {"data":{"name":"ar"},"mark":{"type":"point","shape":"triangle-down","filled":true,"size":30,"angle":17,"color":"#6a9ad6","opacity":1},"encoding":{"x":{"field":"t2","type":"quantitative"},"y":{"field":"v2","type":"quantitative"}}},
  {"data":{"name":"lb"},"transform":[{"filter":"datum.p==='T15'"}],"mark":{"type":"text","fontSize":13.2,"color":"#1a1a1a","align":"center","baseline":"middle"},"encoding":{"text":{"field":"txt"}}},
  {"data":{"name":"tx"},"transform":[{"filter":"datum.p==='T15'"}],"mark":{"type":"text","fontSize":18.5,"color":"#1a1a1a","align":"left","baseline":"middle"},"encoding":{"text":{"field":"txt"}}},
  {"data":{"name":"ul"},"transform":[{"filter":"datum.p==='T15'"}],"mark":{"type":"rule","color":"#222","strokeWidth":1},"encoding":{"x2":{"field":"t2"}}},
  {"data":{"name":"num"},"transform":[{"filter":"datum.p==='T15'"}],"mark":{"type":"text","fontSize":18,"fontWeight":"bold","align":"center","baseline":"middle"},"encoding":{"text":{"field":"s"},"color":{"field":"s","type":"nominal","scale":{"domain":["1","2"],"range":["#4b45c8","#e07b20"]},"legend":null}}}
 ]},
{"width":669,"height":507,
 "encoding":{"x":{"field":"t","type":"quantitative","scale":{"domain":[-0.690,76.207],"nice":false,"zero":false},"axis":null},"y":{"field":"v","type":"quantitative","scale":{"domain":[0,507],"nice":false,"zero":false},"axis":null}},
 "resolve":{"scale":{"color":"independent"}},
 "layer":[
  {"data":{"name":"tr"},"transform":[{"filter":"datum.p==='T18'"}],"mark":{"type":"line","strokeWidth":1.3,"strokeJoin":"round"},"encoding":{"color":{"field":"s","type":"nominal","scale":{"domain":["1","2"],"range":["#4a86c8","#cca233"]},"legend":null}}},
  {"data":{"name":"lb"},"transform":[{"filter":"datum.p==='T18'"}],"mark":{"type":"text","fontSize":14.3,"color":"#1a1a1a","align":"center","baseline":"middle"},"encoding":{"text":{"field":"txt"}}},
  {"data":{"name":"tx"},"transform":[{"filter":"datum.p==='T18'"}],"mark":{"type":"text","fontSize":18.5,"color":"#1a1a1a","align":"left","baseline":"middle"},"encoding":{"text":{"field":"txt"}}},
  {"data":{"name":"ul"},"transform":[{"filter":"datum.p==='T18'"}],"mark":{"type":"rule","color":"#222","strokeWidth":1},"encoding":{"x2":{"field":"t2"}}},
  {"data":{"name":"num"},"transform":[{"filter":"datum.p==='T18'"}],"mark":{"type":"text","fontSize":18,"fontWeight":"bold","align":"center","baseline":"middle"},"encoding":{"text":{"field":"s"},"color":{"field":"s","type":"nominal","scale":{"domain":["1","2"],"range":["#4b45c8","#e07b20"]},"legend":null}}}
 ]}
], "spacing":0, "bounds":"flush"}
]
}
